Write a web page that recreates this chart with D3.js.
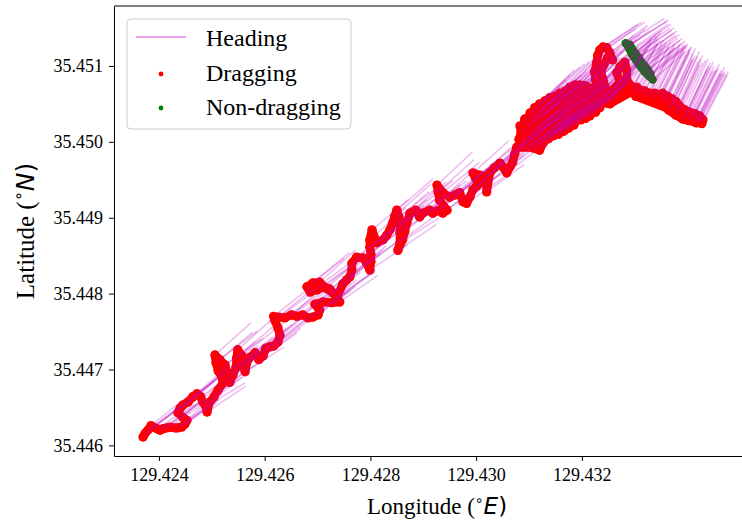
<!DOCTYPE html>
<html><head><meta charset="utf-8">
<script src="https://cdn.jsdelivr.net/npm/d3@7"></script>
<style>html,body{margin:0;padding:0;background:#fff;} svg{display:block;}</style>
</head><body>
<svg id="chart" width="742" height="523"></svg>
<script>
// [longitude, latitude, heading(deg)]
const dragLowerTrack = [
[129.42370,35.44611,60],[129.42374,35.44616,62],[129.42379,35.44620,63],[129.42385,35.44626,61],[129.42389,35.44624,64],[129.42396,35.44622,66],[129.42402,35.44620,65],[129.42408,35.44622,63],[129.42415,35.44623,62],[129.42421,35.44624,64],
[129.42430,35.44623,66],[129.42436,35.44623,65],[129.42443,35.44624,63],[129.42449,35.44628,60],[129.42453,35.44633,58],[129.42445,35.44637,57],[129.42436,35.44643,59],[129.42440,35.44649,61],[129.42445,35.44653,62],[129.42455,35.44657,60],
[129.42464,35.44664,59],[129.42472,35.44668,61],[129.42479,35.44664,64],[129.42483,35.44657,66],[129.42489,35.44651,67],[129.42491,35.44644,65],[129.42496,35.44657,62],[129.42504,35.44664,60],[129.42512,35.44673,58],[129.42521,35.44682,57],
[129.42519,35.44690,59],[129.42512,35.44698,61],[129.42508,35.44709,60],[129.42506,35.44719,58],[129.42515,35.44713,62],[129.42525,35.44706,64],[129.42529,35.44695,66],[129.42534,35.44683,65],[129.42540,35.44693,62],[129.42546,35.44703,60],
[129.42547,35.44715,59],[129.42549,35.44726,58],[129.42557,35.44718,61],[129.42559,35.44706,64],[129.42563,35.44697,66],[129.42566,35.44709,63],[129.42572,35.44716,61],[129.42582,35.44722,62],[129.42589,35.44713,64],[129.42597,35.44718,63],
[129.42602,35.44728,60],[129.42610,35.44730,62],[129.42617,35.44731,63],[129.42625,35.44736,61],[129.42629,35.44745,59],[129.42625,35.44755,58],[129.42619,35.44765,60],[129.42617,35.44770,61],[129.42627,35.44769,63],[129.42638,35.44768,64],
[129.42651,35.44772,65],[129.42661,35.44770,64],[129.42672,35.44772,63],[129.42682,35.44768,65],[129.42691,35.44769,64],[129.42701,35.44772,62],[129.42704,35.44778,60],[129.42695,35.44786,59],[129.42710,35.44789,61],[129.42727,35.44788,63],
[129.42742,35.44789,64],
[129.42738,35.44794,62],[129.42729,35.44801,60],[129.42716,35.44807,59],[129.42704,35.44815,58],[129.42691,35.44814,60],[129.42680,35.44809,62],[129.42686,35.44802,63],[129.42699,35.44805,64],[129.42712,35.44809,62],[129.42723,35.44806,63],
[129.42737,35.44796,65],[129.42748,35.44813,61],[129.42755,35.44818,60],[129.42761,35.44822,59],[129.42765,35.44831,58],[129.42765,35.44840,59],[129.42774,35.44848,61],[129.42786,35.44847,63],[129.42793,35.44840,64],[129.42799,35.44831,65],
[129.42801,35.44842,62],[129.42801,35.44852,60],[129.42799,35.44861,59],[129.42799,35.44871,58],[129.42803,35.44884,60],[129.42812,35.44867,63],[129.42824,35.44871,62],[129.42831,35.44877,61],[129.42837,35.44884,60],[129.42842,35.44893,59],
[129.42846,35.44902,58],[129.42850,35.44910,59],[129.42854,35.44901,62],[129.42856,35.44892,64],[129.42856,35.44881,65],[129.42856,35.44867,66],[129.42852,35.44857,65],[129.42861,35.44871,63],[129.42865,35.44882,61],[129.42869,35.44893,60],
[129.42875,35.44906,59],[129.42886,35.44910,61],[129.42893,35.44901,63],[129.42899,35.44906,62],[129.42912,35.44910,61],[129.42918,35.44906,62],[129.42926,35.44909,61],[129.42931,35.44910,60],[129.42937,35.44906,62],[129.42945,35.44910,61],
[129.42931,35.44923,59],[129.42928,35.44934,58],[129.42926,35.44943,57],[129.42937,35.44933,60],[129.42950,35.44927,62],[129.42960,35.44930,61],[129.42969,35.44933,60],[129.42975,35.44921,63],[129.42982,35.44919,64],[129.42988,35.44927,62],
[129.42994,35.44937,60],[129.43001,35.44942,59],[129.43007,35.44946,58],[129.42999,35.44952,59],[129.42994,35.44959,58],[129.43007,35.44956,60],[129.43020,35.44954,61],[129.43020,35.44945,62],[129.43020,35.44934,63],[129.43026,35.44959,60],
[129.43035,35.44966,59],[129.43045,35.44972,58],[129.43052,35.44966,60],[129.43058,35.44959,62],[129.43064,35.44967,61],[129.43069,35.44973,60],[129.43073,35.44984,59],[129.43077,35.44993,60],[129.43086,35.44993,61],[129.43096,35.44993,62],
[129.43107,35.44992,61],[129.43120,35.44989,62],[129.43126,35.44998,60],[129.43134,35.45006,59],[129.43143,35.45009,60],[129.43153,35.45012,61]
];
const dragCluster = [
[129.43083,35.45021,60],[129.43085,35.45012,61],[129.43081,35.45003,62],[129.43085,35.44995,60],
[129.43092,35.45030,58],[129.43094,35.45022,59],[129.43090,35.45013,61],[129.43094,35.45004,62],[129.43092,35.44996,61],
[129.43102,35.45038,57],[129.43103,35.45029,58],[129.43100,35.45021,60],[129.43103,35.45012,61],[129.43102,35.45003,62],[129.43105,35.44995,60],
[129.43111,35.45045,57],[129.43113,35.45037,58],[129.43109,35.45028,59],[129.43113,35.45018,61],[129.43111,35.45009,62],[129.43113,35.45000,61],
[129.43120,35.45050,56],[129.43122,35.45041,58],[129.43119,35.45031,59],[129.43122,35.45022,60],[129.43120,35.45013,61],[129.43122,35.45004,62],[129.43119,35.44996,60],
[129.43130,35.45054,56],[129.43132,35.45045,57],[129.43128,35.45035,59],[129.43132,35.45026,60],[129.43130,35.45017,61],[129.43132,35.45008,62],[129.43128,35.45000,61],
[129.43139,35.45058,56],[129.43141,35.45049,57],[129.43137,35.45039,58],[129.43141,35.45030,60],[129.43139,35.45021,61],[129.43141,35.45012,62],[129.43137,35.45004,61],
[129.43149,35.45060,55],[129.43151,35.45051,57],[129.43147,35.45042,58],[129.43151,35.45033,59],[129.43149,35.45024,60],[129.43151,35.45014,61],[129.43147,35.45008,62],
[129.43158,35.45064,55],[129.43160,35.45055,56],[129.43156,35.45046,58],[129.43160,35.45037,59],[129.43158,35.45028,60],[129.43160,35.45018,61],[129.43156,35.45010,62],
[129.43168,35.45067,55],[129.43170,35.45058,56],[129.43166,35.45049,57],[129.43170,35.45039,59],[129.43168,35.45030,60],[129.43170,35.45021,61],[129.43166,35.45014,62],
[129.43177,35.45072,54],[129.43179,35.45063,55],[129.43175,35.45054,57],[129.43179,35.45045,58],[129.43177,35.45035,59],[129.43179,35.45026,60],[129.43175,35.45018,61],
[129.43187,35.45075,54],[129.43189,35.45066,55],[129.43185,35.45057,56],[129.43189,35.45047,58],[129.43187,35.45038,59],[129.43189,35.45029,60],[129.43185,35.45022,61],
[129.43196,35.45075,53],[129.43198,35.45066,55],[129.43194,35.45057,56],[129.43198,35.45047,57],[129.43196,35.45038,58],[129.43198,35.45029,59],
[129.43206,35.45074,53],[129.43207,35.45064,54],[129.43204,35.45055,56],[129.43207,35.45046,57],[129.43206,35.45037,58],[129.43207,35.45031,59],
[129.43215,35.45071,52],[129.43217,35.45062,54],[129.43213,35.45053,55],[129.43217,35.45043,57],[129.43215,35.45034,58],
[129.43224,35.45066,52],[129.43226,35.45057,53],[129.43223,35.45047,55],[129.43226,35.45039,56],
[129.43234,35.45062,51],[129.43236,35.45053,53],[129.43234,35.45045,54]
];
const dragEastArm = [
[129.43228,35.45071,60],[129.43226,35.45082,61],[129.43224,35.45092,62],[129.43228,35.45104,63],[129.43230,35.45114,64],[129.43234,35.45121,65],[129.43240,35.45125,66],[129.43247,35.45124,65],[129.43253,35.45117,63],[129.43258,35.45108,61],
[129.43249,35.45111,62],[129.43241,35.45101,60],[129.43236,35.45092,58],[129.43240,35.45082,57],[129.43245,35.45071,56],[129.43241,35.45060,55],[129.43247,35.45051,54],[129.43253,35.45062,52],[129.43262,35.45071,50],[129.43272,35.45079,47],
[129.43266,35.45091,56],[129.43272,35.45099,58],[129.43281,35.45105,59],[129.43285,35.45095,53],[129.43285,35.45082,45],[129.43291,35.45075,41],[129.43296,35.45072,40],[129.43304,35.45072,39],[129.43310,35.45068,38],[129.43319,35.45067,37],
[129.43328,35.45064,36],[129.43338,35.45064,36],[129.43347,35.45062,35],[129.43353,35.45064,35],[129.43361,35.45058,34],[129.43366,35.45050,34],[129.43374,35.45045,33],[129.43381,35.45042,33],[129.43389,35.45041,34],[129.43398,35.45038,34],
[129.43404,35.45034,35],[129.43412,35.45031,35],[129.43417,35.45029,36],[129.43423,35.45028,36],[129.43429,35.45029,37],[129.43423,35.45034,36],[129.43414,35.45037,35],[129.43404,35.45039,34],[129.43395,35.45042,33],[129.43385,35.45047,33],
[129.43378,35.45053,34],[129.43370,35.45057,34],[129.43362,35.45060,35],[129.43357,35.45055,35],[129.43347,35.45055,36],[129.43338,35.45059,36],[129.43325,35.45060,37],[129.43315,35.45062,38],[129.43302,35.45066,39],[129.43291,35.45068,40],
[129.43277,35.45071,42],[129.43268,35.45066,44],[129.43258,35.45058,46],[129.43253,35.45050,48],[129.43294,35.45066,38],[129.43311,35.45064,37],[129.43330,35.45060,36],[129.43346,35.45058,35],[129.43359,35.45051,34],[129.43370,35.45046,33],
[129.43376,35.45039,33],[129.43383,35.45038,34],[129.43395,35.45033,34],[129.43397,35.45033,35],[129.43406,35.45029,35],[129.43408,35.45030,36],[129.43417,35.45025,36],[129.43419,35.45026,37],[129.43427,35.45024,37],[129.43366,35.45043,34],
[129.43302,35.45060,38],[129.43319,35.45058,37],[129.43336,35.45055,36],[129.43351,35.45050,35],[129.43364,35.45042,34],[129.43378,35.45035,34],[129.43391,35.45030,35],[129.43402,35.45028,35],[129.43414,35.45026,36],[129.43423,35.45026,37]
];
const nonDragging = [
[129.43283,35.45130,66],[129.43287,35.45126,66],[129.43291,35.45121,65],[129.43294,35.45116,65],[129.43298,35.45112,64],[129.43302,35.45108,64],[129.43306,35.45104,63],[129.43310,35.45100,63],[129.43315,35.45096,62],[129.43319,35.45092,62],
[129.43325,35.45088,61],[129.43328,35.45086,61],[129.43334,35.45082,60],[129.43291,35.45128,66],[129.43296,35.45121,65],[129.43302,35.45116,65],[129.43308,35.45111,64],[129.43313,35.45105,63],[129.43319,35.45100,63],[129.43325,35.45095,62],
[129.43330,35.45089,61]
];
const xTicks = [129.424, 129.426, 129.428, 129.430, 129.432];
const yTicks = [35.446, 35.447, 35.448, 35.449, 35.450, 35.451];
const legendLabels = ["Heading", "Dragging", "Non-dragging"];
const headingLength = 0.0008; // degrees

const svg = d3.select("#chart");
const L = 114, T = 6, B = 456, R = 760;
const x = d3.scaleLinear().domain([129.42315, 129.43537]).range([L, R]);
const y = d3.scaleLinear().domain([35.44586, 35.45179]).range([B, T]);

svg.append("defs").append("clipPath").attr("id","clip")
  .append("rect").attr("x",L).attr("y",T).attr("width",R-L).attr("height",B-T);

const toObj = d => ({lon:d[0], lat:d[1], h:d[2]});
const segments = [dragLowerTrack, dragCluster, dragEastArm].map(s => s.map(toObj));
const drag = segments.flat();
const non = nonDragging.map(toObj);
const all = [...drag, ...non];

const plot = svg.append("g").attr("clip-path","url(#clip)");
const track = d3.line().x(d => x(d.lon)).y(d => y(d.lat));

// GPS fixes are dense: consecutive fixes overlap into a continuous chain
plot.append("g").selectAll("path").data(segments).join("path")
  .attr("d", track).attr("fill", "none").attr("stroke", "#ff0000")
  .attr("stroke-width", 8.5).attr("stroke-linejoin", "round").attr("stroke-linecap", "round");
plot.append("g").selectAll("circle").data(drag).join("circle")
  .attr("cx", d => x(d.lon)).attr("cy", d => y(d.lat)).attr("r", 4.7).attr("fill", "#ff0000");
plot.append("path").datum(non).attr("d", track).attr("fill", "none").attr("stroke", "#008000")
  .attr("stroke-width", 7.5).attr("stroke-linejoin", "round").attr("stroke-linecap", "round");
plot.append("g").selectAll("circle").data(non).join("circle")
  .attr("cx", d => x(d.lon)).attr("cy", d => y(d.lat)).attr("r", 4.2).attr("fill", "#008000");

const rad = Math.PI/180;
plot.append("g").selectAll("line").data(all).join("line")
  .attr("x1", d => x(d.lon)).attr("y1", d => y(d.lat))
  .attr("x2", d => x(d.lon + headingLength*Math.sin(d.h*rad)))
  .attr("y2", d => y(d.lat + headingLength*Math.cos(d.h*rad)))
  .attr("stroke", "#bf00bf").attr("stroke-opacity", 0.26).attr("stroke-width", 1.6);

// axes
const fmt = d3.format(".3f");
const gx = svg.append("g").attr("transform", `translate(0,${B})`)
  .call(d3.axisBottom(x).tickValues(xTicks).tickFormat(fmt).tickSizeInner(5).tickSizeOuter(0).tickPadding(7));
const gy = svg.append("g").attr("transform", `translate(${L},0)`)
  .call(d3.axisLeft(y).tickValues(yTicks).tickFormat(fmt).tickSizeInner(5).tickSizeOuter(0).tickPadding(6));
[gx, gy].forEach(g => {
  g.selectAll("text").attr("font-family", "Liberation Serif").attr("font-size", "18px").attr("fill", "#000");
  g.selectAll("line").attr("stroke", "#000").attr("stroke-width", 1);
  g.select(".domain").attr("stroke", "#000").attr("stroke-width", 1);
});
svg.append("line").attr("x1", L).attr("x2", R).attr("y1", T).attr("y2", T).attr("stroke", "#000");
svg.append("line").attr("x1", R).attr("x2", R).attr("y1", T).attr("y2", B).attr("stroke", "#000");

function axisLabel(t, pre, letter, fs) {
  t.append("tspan").attr("font-family", "Liberation Serif").text(pre);
  t.append("tspan").attr("font-family", "DejaVu Sans").attr("font-size", Math.round(fs*0.62) + "px").attr("dy", -fs*0.4).text("\u2218");
  t.append("tspan").attr("font-family", "DejaVu Sans").attr("font-style", "oblique").attr("dy", fs*0.4).text(letter);
  t.append("tspan").attr("font-family", "DejaVu Sans").text(")");
}
const xl = svg.append("text").attr("x", (L + R) / 2).attr("y", 514).attr("text-anchor", "middle")
  .attr("font-size", "23px").attr("fill", "#000");
axisLabel(xl, "Longitude (", "E", 23);
const yl = svg.append("text").attr("transform", `translate(34,${(T + B) / 2}) rotate(-90)`).attr("text-anchor", "middle")
  .attr("font-size", "25px").attr("fill", "#000");
axisLabel(yl, "Latitude (", "N", 25);

// legend
const lg = svg.append("g");
lg.append("rect").attr("x", 127).attr("y", 19).attr("width", 224).attr("height", 110).attr("rx", 4)
  .attr("fill", "#fff").attr("fill-opacity", 0.8).attr("stroke", "#cccccc").attr("stroke-width", 1);
lg.append("line").attr("x1", 136).attr("x2", 186).attr("y1", 37).attr("y2", 37)
  .attr("stroke", "#bf00bf").attr("stroke-opacity", 0.5).attr("stroke-width", 1.5);
lg.append("circle").attr("cx", 161).attr("cy", 74).attr("r", 2.4).attr("fill", "#ff0000");
lg.append("circle").attr("cx", 161).attr("cy", 108).attr("r", 2.4).attr("fill", "#008000");
lg.selectAll("text.lab").data(legendLabels).join("text").attr("class", "lab")
  .attr("x", 206).attr("y", (d, i) => 46 + i * 34.5)
  .attr("font-family", "Liberation Serif").attr("font-size", "24px").attr("fill", "#000").text(d => d);
</script>
</body></html>
